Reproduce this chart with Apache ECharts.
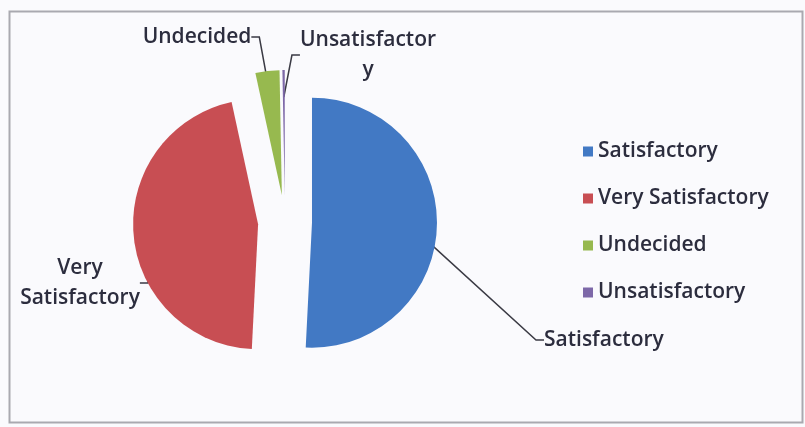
<!DOCTYPE html>
<html>
<head>
<meta charset="utf-8">
<script src="https://cdn.jsdelivr.net/npm/echarts@6/dist/echarts.min.js"></script>
<style>
  html, body { margin: 0; padding: 0; background: #fafafd; }
  #pieChart { width: 805px; height: 427px; }
</style>
</head>
<body>
<div id="pieChart"></div>
<script>
// categories and share of answers (percent)
var categories = ['Satisfactory', 'Very Satisfactory', 'Undecided', 'Unsatisfactory'];
var shares = [50.8, 45.8, 3.1, 0.3];
var sliceColors = ['#4279c4', '#c84e53', '#97b94f', '#7d68a8'];
// text for the outside labels (Excel wrapped two of them)
var labelTexts = ['Satisfactory', 'Very\nSatisfactory', 'Undecided', 'Unsatisfactor\ny'];

var textColor = '#2c2d3e';
var fontName = 'Open Sans';
var fontSize = 21;
var fontWeight = 600;
var pieCenter = [285, 222];
var pieRadius = 125;

// where the dragged labels sit
var labelSpots = [
  { x: 544, y: 340, align: 'left' },
  { x: 80, y: 283, align: 'center' },
  { x: 197, y: 37, align: 'center' },
  { x: 368, y: 55, align: 'center' }
];

var pieChart = echarts.init(document.getElementById('pieChart'));

pieChart.setOption({
  backgroundColor: '#fafafd',
  animation: false,
  textStyle: { fontFamily: fontName },
  graphic: [{
    type: 'rect',
    shape: { x: 9.5, y: 11.5, width: 793, height: 411 },
    style: { fill: 'none', stroke: '#a9a9b0', lineWidth: 2 }
  }],
  legend: {
    orient: 'vertical',
    left: 578,
    top: 136,
    itemWidth: 10,
    itemHeight: 10,
    itemGap: 26,
    icon: 'rect',
    textStyle: { color: textColor, fontSize: fontSize, fontWeight: fontWeight, fontFamily: fontName, lineHeight: 20 },
    data: categories
  },
  series: [{
    // exploded slices
    name: 'slices',
    type: 'pie',
    z: 3,
    center: pieCenter,
    radius: pieRadius,
    startAngle: 90,
    clockwise: true,
    selectedMode: 'multiple',
    selectedOffset: 27,
    emphasis: { disabled: true },
    silent: true,
    label: { show: false },
    labelLine: { show: false },
    data: categories.map(function (c, i) {
      return { name: c, value: shares[i], selected: true, itemStyle: { color: sliceColors[i] } };
    })
  }, {
    // same pie underneath, only carrying the labels and leader lines
    name: 'labels',
    type: 'pie',
    z: 2,
    center: pieCenter,
    radius: pieRadius,
    startAngle: 90,
    clockwise: true,
    silent: true,
    emphasis: { disabled: true },
    itemStyle: { color: 'rgba(0,0,0,0)' },
    label: {
      show: true,
      position: 'outside',
      color: textColor,
      fontSize: fontSize,
      fontWeight: fontWeight,
      lineHeight: 30,
      fontFamily: fontName,
      formatter: function (p) { return labelTexts[p.dataIndex]; }
    },
    labelLine: {
      show: true,
      length: 20,
      length2: 8,
      lineStyle: { color: '#3a3a44', width: 1.5 }
    },
    labelLayout: function (params) {
      var s = labelSpots[params.dataIndex];
      return { x: s.x, y: s.y, align: s.align, verticalAlign: 'middle' };
    },
    data: categories.map(function (c, i) {
      return { name: c, value: shares[i] };
    })
  }]
});
</script>
</body>
</html>
